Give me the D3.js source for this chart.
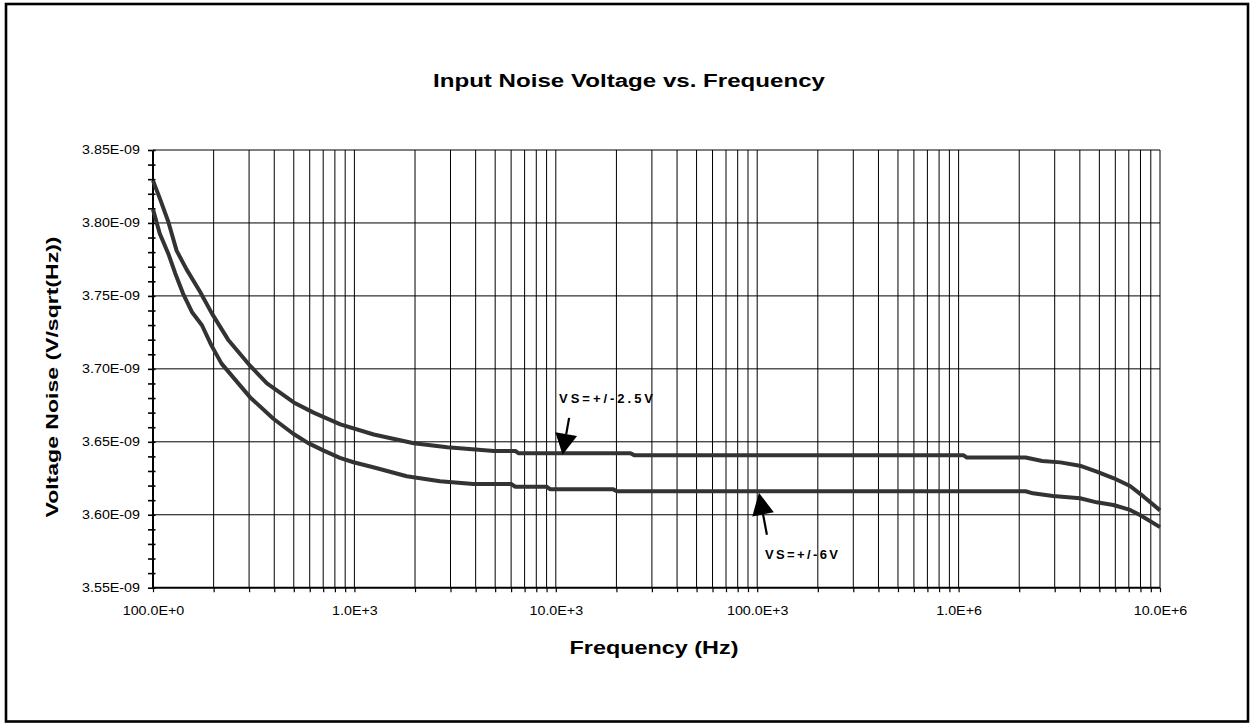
<!DOCTYPE html>
<html>
<head>
<meta charset="utf-8">
<script src="https://cdn.jsdelivr.net/npm/d3@7"></script>
<style>
  html, body { margin: 0; padding: 0; background: #fff; }
  svg { display: block; }
  text { font-family: "Liberation Sans", Arial, sans-serif; fill: #000; }
</style>
</head>
<body>
<svg id="chart" width="1253" height="723"></svg>
<script>
// ---- data -------------------------------------------------------------
// VS = +/-2.5V supply
const freq25 = [100, 108, 119, 131, 147, 171, 196, 236, 304, 368, 500, 627, 852, 1247, 1972, 2893, 4933,
  6300, 6550, 23500, 24600, 1.06e6, 1.10e6, 2.15e6, 2.6e6, 3.2e6, 4.0e6, 4.85e6, 5.9e6, 7.1e6, 8.3e6, 1e7];
const noise25 = [3.829, 3.817, 3.801, 3.781, 3.768, 3.753, 3.738, 3.720, 3.702, 3.690, 3.677, 3.670, 3.662, 3.655, 3.649, 3.6463, 3.6437,
  3.6437, 3.6421, 3.6421, 3.6407, 3.6407, 3.6392, 3.6392, 3.6368, 3.6359, 3.6336, 3.6295, 3.6250, 3.6197, 3.6124, 3.6030].map(v => v * 1e-9);

// VS = +/-6V supply
const freq6 = [100, 108, 119, 129, 141, 156, 175, 195, 219, 303, 396, 497, 590, 700, 847, 990, 1240, 1819, 2664, 3893,
  6000, 6300, 9000, 9400, 19300, 20100, 2.15e6, 2.34e6, 2.94e6, 4.01e6, 4.85e6, 5.87e6, 7.1e6, 7.95e6, 1e7];
const noise6 = [3.8093, 3.7928, 3.7791, 3.7654, 3.7516, 3.739, 3.7299, 3.7161, 3.7036, 3.6806, 3.6658, 3.6555, 3.6491, 3.6441, 3.6390, 3.636, 3.6326, 3.6264, 3.623, 3.6211,
  3.6211, 3.6192, 3.6192, 3.6174, 3.6174, 3.6161, 3.6161, 3.6147, 3.6129, 3.6113, 3.6085, 3.6067, 3.6033, 3.5998, 3.5915].map(v => v * 1e-9);

const xTickValues = [1e2, 1e3, 1e4, 1e5, 1e6, 1e7];
const xTickLabels = ["100.0E+0", "1.0E+3", "10.0E+3", "100.0E+3", "1.0E+6", "10.0E+6"];
const yTickValues = [3.55e-9, 3.60e-9, 3.65e-9, 3.70e-9, 3.75e-9, 3.80e-9, 3.85e-9];
const yTickLabels = ["3.55E-09", "3.60E-09", "3.65E-09", "3.70E-09", "3.75E-09", "3.80E-09", "3.85E-09"];

const seriesLabels = ["VS=+/-2.5V", "VS=+/-6V"];
const arrowFreqs = [10800, 102000];

// ---- layout -----------------------------------------------------------
const W = 1253, H = 723;
const plot = { left: 153, right: 1160, top: 150, bottom: 587.7 };

const svg = d3.select("#chart");

const x = d3.scaleLog().domain([1e2, 1e7]).range([plot.left, plot.right]);
const y = d3.scaleLinear().domain([3.55e-9, 3.85e-9]).range([plot.bottom, plot.top]);

// outer frame
svg.append("rect")
  .attr("x", 6).attr("y", 4).attr("width", 1242).attr("height", 717.5)
  .attr("fill", "#fff").attr("stroke", "#000").attr("stroke-width", 2.6);

// stretch text horizontally to a given factor of its natural width
function widen(sel, factor, adjust) {
  sel.each(function () {
    const n = this.getComputedTextLength();
    d3.select(this).attr("textLength", n * factor).attr("lengthAdjust", adjust || "spacingAndGlyphs");
  });
}

// ---- grid -------------------------------------------------------------
const gridFreqs = [];
for (let d = 2; d < 7; d++) {
  for (let m = 1; m < 10; m++) gridFreqs.push(m * Math.pow(10, d));
}
gridFreqs.push(1e7);

const grid = svg.append("g");
grid.selectAll("line.v").data(gridFreqs.filter(f => f > 100)).join("line")
  .attr("class", "v")
  .attr("x1", d => x(d)).attr("x2", d => x(d))
  .attr("y1", plot.top).attr("y2", plot.bottom)
  .attr("stroke", "#000").attr("stroke-width", 1);

grid.selectAll("line.h").data(yTickValues.slice(1)).join("line")
  .attr("class", "h")
  .attr("x1", plot.left).attr("x2", plot.right)
  .attr("y1", d => y(d)).attr("y2", d => y(d))
  .attr("stroke", "#000").attr("stroke-width", 1);

// ---- axes -------------------------------------------------------------
const yMinor = d3.range(0, 31).map(i => 3.55e-9 + i * 0.01e-9);
const yAxis = svg.append("g").attr("transform", `translate(${plot.left},0)`)
  .call(d3.axisLeft(y).tickValues(yMinor).tickSize(0).tickFormat(""));
yAxis.select(".domain").remove();
yAxis.selectAll(".tick line").remove();
yAxis.selectAll(".tick").append("line")
  .attr("x1", -5).attr("x2", 2.5)
  .attr("stroke", "#000").attr("stroke-width", 1.6);
yAxis.append("line")
  .attr("x1", 0).attr("x2", 0).attr("y1", plot.top).attr("y2", plot.bottom)
  .attr("stroke", "#000").attr("stroke-width", 2);

const yLabels = svg.append("g").attr("transform", `translate(${plot.left},0)`)
  .call(d3.axisLeft(y).tickValues(yTickValues).tickSize(0).tickPadding(13)
    .tickFormat((d, i) => yTickLabels[i]));
yLabels.select(".domain").remove();
yLabels.selectAll("text")
  .attr("font-family", "Liberation Sans, Arial, sans-serif")
  .attr("font-size", 12).attr("fill", "#000");
widen(yLabels.selectAll("text"), 1.19);

const xAxis = svg.append("g").attr("transform", `translate(0,${plot.bottom})`)
  .call(d3.axisBottom(x).tickValues(gridFreqs).tickSize(4.5).tickFormat(""));
xAxis.select(".domain").remove();
xAxis.selectAll(".tick line").attr("stroke", "#000").attr("stroke-width", 1.2);
xAxis.append("line")
  .attr("x1", plot.left - 1).attr("x2", plot.right).attr("y1", 0).attr("y2", 0)
  .attr("stroke", "#000").attr("stroke-width", 2);

const xLabels = svg.append("g").attr("transform", `translate(0,${plot.bottom})`)
  .call(d3.axisBottom(x).tickValues(xTickValues).tickSize(0).tickPadding(19)
    .tickFormat((d, i) => xTickLabels[i]));
xLabels.select(".domain").remove();
xLabels.selectAll("text")
  .attr("font-family", "Liberation Sans, Arial, sans-serif")
  .attr("font-size", 12).attr("fill", "#000");
widen(xLabels.selectAll("text"), 1.19);

// ---- series -----------------------------------------------------------
const line = d3.line().x(d => x(d[0])).y(d => y(d[1]));
const series = [d3.zip(freq25, noise25), d3.zip(freq6, noise6)];

svg.append("g").selectAll("path").data(series).join("path")
  .attr("d", line)
  .attr("fill", "none")
  .attr("stroke", "#333")
  .attr("stroke-width", 4)
  .attr("stroke-linejoin", "round");

// ---- annotations ------------------------------------------------------
function valueAt(fs, vs, f) {
  const xs = fs.map(v => Math.log10(v));
  const i = d3.bisectLeft(xs, Math.log10(f));
  const t = (Math.log10(f) - xs[i - 1]) / (xs[i] - xs[i - 1]);
  return vs[i - 1] + t * (vs[i] - vs[i - 1]);
}

function arrow(g, tip, tail, headLen, headHalf) {
  const dx = tail[0] - tip[0], dy = tail[1] - tip[1];
  const len = Math.hypot(dx, dy), ux = dx / len, uy = dy / len;
  const bx = tip[0] + ux * headLen, by = tip[1] + uy * headLen;
  g.append("line")
    .attr("x1", bx).attr("y1", by).attr("x2", tail[0]).attr("y2", tail[1])
    .attr("stroke", "#000").attr("stroke-width", 2.2);
  g.append("path")
    .attr("d", `M${tip[0]},${tip[1]}L${bx - uy * headHalf},${by + ux * headHalf}L${bx + uy * headHalf},${by - ux * headHalf}Z`)
    .attr("fill", "#000");
}

const ann = svg.append("g");
// upper curve callout
const tipA = [x(arrowFreqs[0]), y(valueAt(freq25, noise25, arrowFreqs[0])) + 1.5];
arrow(ann, tipA, [tipA[0] + 6.6, tipA[1] - 37], 21, 11);
ann.append("text")
  .attr("x", tipA[0] - 3.5).attr("y", tipA[1] - 52)
  .attr("font-size", 13).attr("font-weight", "bold")
  .attr("textLength", 94).attr("lengthAdjust", "spacing")
  .text(seriesLabels[0]);

// lower curve callout
const tipB = [x(arrowFreqs[1]), y(valueAt(freq6, noise6, arrowFreqs[1])) + 1.5];
arrow(ann, tipB, [tipB[0] + 8, tipB[1] + 42], 22, 11);
ann.append("text")
  .attr("x", tipB[0] + 6).attr("y", tipB[1] + 66)
  .attr("font-size", 13).attr("font-weight", "bold")
  .attr("textLength", 73).attr("lengthAdjust", "spacing")
  .text(seriesLabels[1]);

// ---- titles -----------------------------------------------------------
svg.append("text")
  .attr("x", 629).attr("y", 86.5)
  .attr("text-anchor", "middle")
  .attr("font-size", 18).attr("font-weight", "bold")
  .attr("textLength", 392).attr("lengthAdjust", "spacingAndGlyphs")
  .text("Input Noise Voltage vs. Frequency");

svg.append("text")
  .attr("transform", "translate(58,377) rotate(-90)")
  .attr("text-anchor", "middle")
  .attr("font-size", 17).attr("font-weight", "bold")
  .attr("textLength", 281).attr("lengthAdjust", "spacingAndGlyphs")
  .text("Voltage Noise (V/sqrt(Hz))");

svg.append("text")
  .attr("x", 654).attr("y", 654)
  .attr("text-anchor", "middle")
  .attr("font-size", 18).attr("font-weight", "bold")
  .attr("textLength", 169).attr("lengthAdjust", "spacingAndGlyphs")
  .text("Frequency (Hz)");
</script>
</body>
</html>
